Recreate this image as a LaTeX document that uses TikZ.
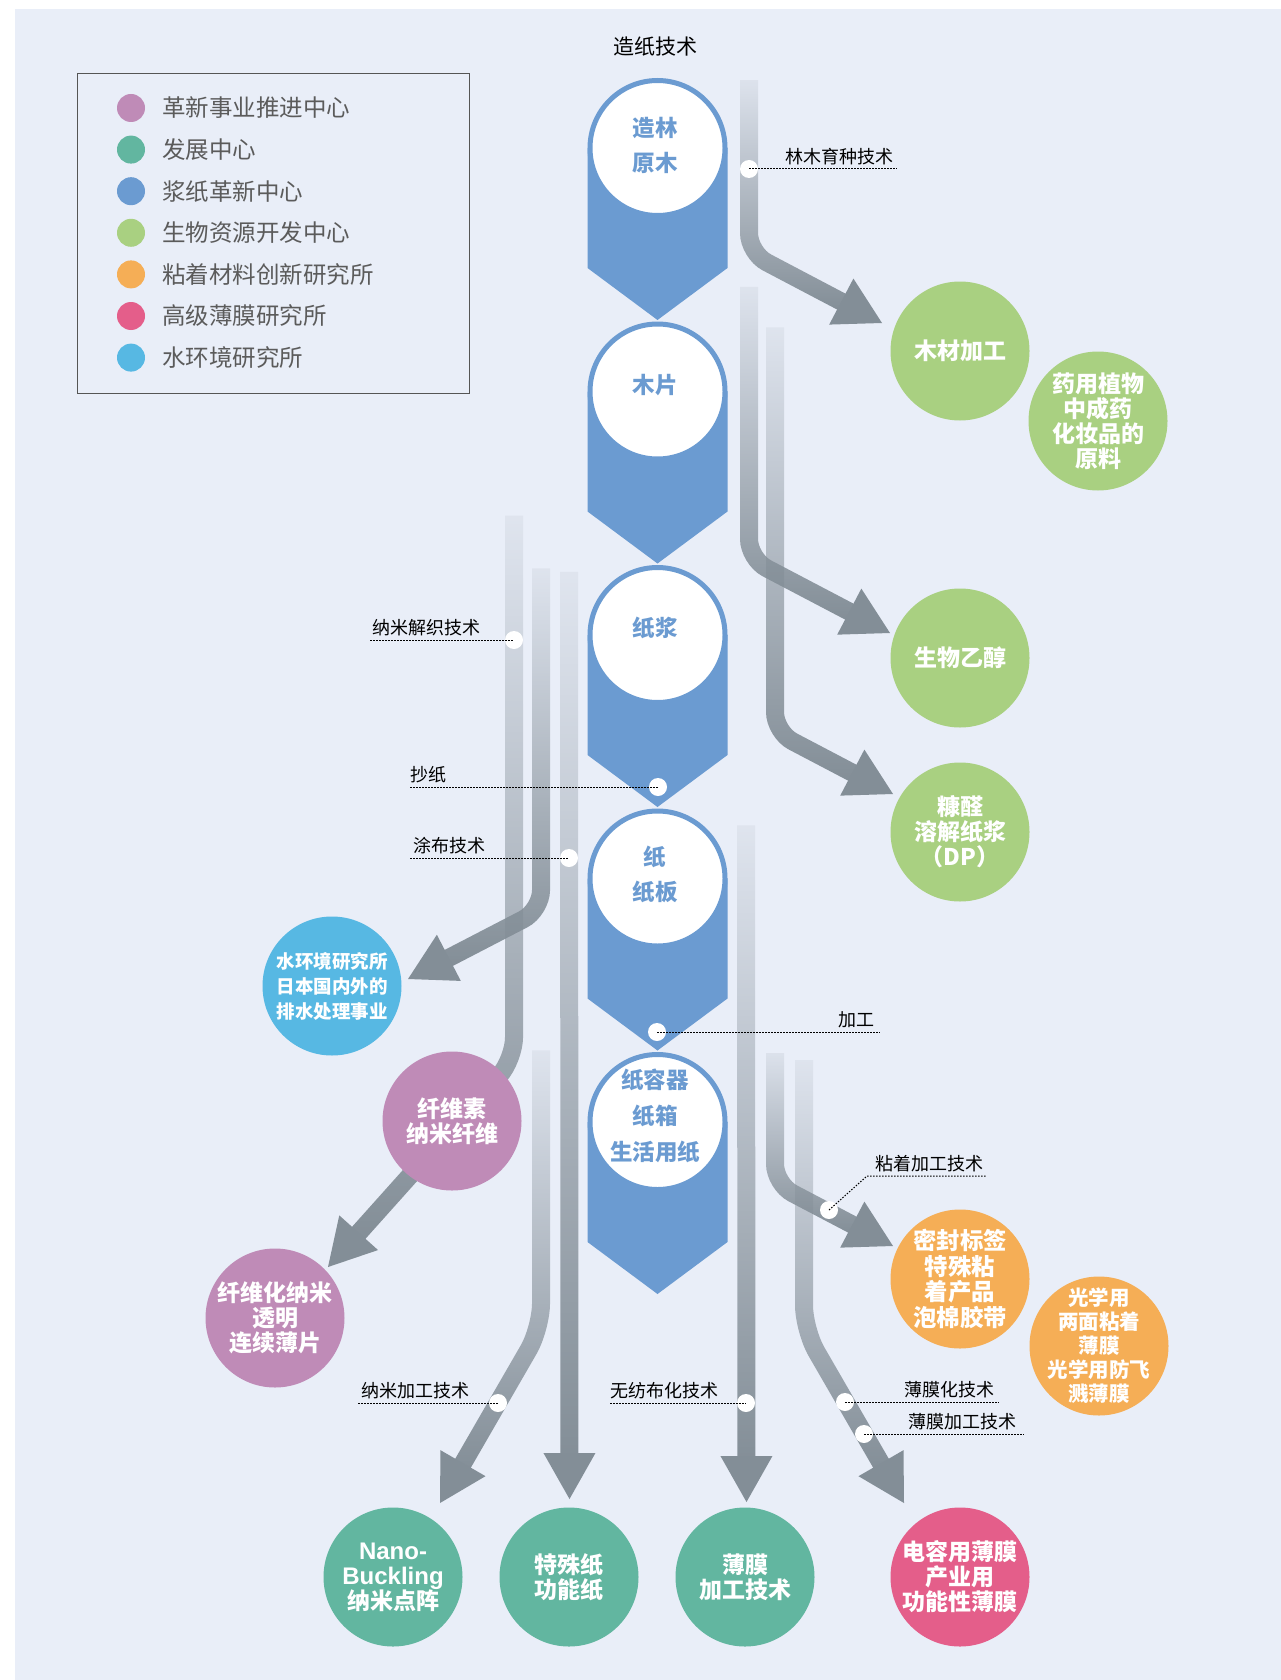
\documentclass[tikz,border=0pt]{standalone}
\usepackage{fontspec}
\setmainfont{Noto Sans CJK SC}
\newfontfamily\latinfont{Liberation Sans}
\usetikzlibrary{arrows.meta,fadings,calc}
\definecolor{bgc}{HTML}{E9EEF8}
\definecolor{colblue}{HTML}{6B9BD1}
\definecolor{cpurple}{HTML}{BF8BB7}
\definecolor{cteal}{HTML}{62B6A0}
\definecolor{cgreen}{HTML}{A9D081}
\definecolor{corange}{HTML}{F5AE56}
\definecolor{cpink}{HTML}{E45E8A}
\definecolor{ccyan}{HTML}{57B8E3}
\definecolor{arrowgray}{HTML}{838E97}
\definecolor{leggray}{HTML}{5B5B5B}
\definecolor{legframe}{HTML}{555555}
\tikzfading[name=arrowfade, top color=transparent!92, bottom color=transparent!0]
\tikzset{
  bub/.style={circle, inner sep=-20pt, minimum size=139pt, text=white, align=center,
    font=\fontsize{23}{25}\selectfont\bfseries},
  lbl/.style={font=\fontsize{18}{20}\selectfont, text=black, inner sep=0pt},
  dotline/.style={line width=1pt, dash pattern=on 1.5pt off 1.5pt, black},
  tdot/.style={circle, fill=white, inner sep=0pt, minimum size=18pt},
  flow/.style={line width=18pt, draw=arrowgray, rounded corners=20pt, path fading=arrowfade},
  flowtip/.style={fill=arrowgray},
  stage/.style={circle, fill=white, draw=colblue, line width=5pt, minimum size=135pt, inner sep=0pt},
  stagetext/.style={text=colblue, font=\fontsize{22.5}{35}\selectfont\bfseries, align=center, inner sep=0pt},
  legdot/.style={circle, inner sep=0pt, minimum size=28pt},
  legtext/.style={anchor=west, text=leggray, font=\fontsize{23.5}{28}\selectfont, inner sep=0pt},
}
\begin{document}
\begin{tikzpicture}[x=1pt,y=-1pt]
\useasboundingbox (0,0) rectangle (1281,1680);
\fill[bgc] (15,9) rectangle (1281,1680);

% title
\node[font=\fontsize{21}{24}\selectfont, inner sep=0pt] (title) at (655,47) {造纸技术};

% legend
\node[draw=legframe, line width=1.3pt, minimum width=392pt, minimum height=320pt, inner sep=0pt, anchor=north west] (legend) at (77,73) {};
\foreach \c/\t [count=\i] in {cpurple/革新事业推进中心, cteal/发展中心, colblue/浆纸革新中心, cgreen/生物资源开发中心, corange/粘着材料创新研究所, cpink/高级薄膜研究所, ccyan/水环境研究所}{
  \node[legdot, fill=\c] (ld\i) at (131,{108+41.6*(\i-1)}) {};
  \node[legtext] (lt\i) at (162,{108+41.6*(\i-1)}) {\t};
}

% flow arrows: start, corner, tip
\coordinate (a1s) at (749,80);   \coordinate (a1c) at (749,253);  \coordinate (a1t) at (882,323);
\coordinate (a2s) at (749,287);  \coordinate (a2c) at (749,559);  \coordinate (a2t) at (890,633);
\coordinate (a3s) at (775,327);  \coordinate (a3c) at (775,732);  \coordinate (a3t) at (893,794);
\coordinate (a4s) at (541,568);  \coordinate (a4c) at (541,910);  \coordinate (a4t) at (408,979);
\coordinate (a5s) at (514,515);  \coordinate (a5c) at (514,1059); \coordinate (a5t) at (328,1267);
\coordinate (a6s) at (569,570);  \coordinate (a6c) at (569,571);  \coordinate (a6t) at (569.5,1499);
\coordinate (a7s) at (541,1050); \coordinate (a7c) at (541,1328); \coordinate (a7t) at (440,1503);
\coordinate (a8s) at (746,825);  \coordinate (a8c) at (746,826);  \coordinate (a8t) at (746.5,1502);
\coordinate (a9s) at (775,1053); \coordinate (a9c) at (775,1184); \coordinate (a9t) at (893,1246);
\coordinate (a10s) at (804,1060); \coordinate (a10c) at (804,1330); \coordinate (a10t) at (904,1503);

\foreach \a in {a1,a2,a3,a4,a5,a6,a7,a8,a9,a10}{
  \coordinate (\a b) at ($(\a t)!46pt!(\a c)$);
  \coordinate (\a e) at ($(\a b)!-1.5pt!(\a c)$);
}

\draw[flow] (a1s) -- (a1c) -- (a1e);
\draw[flow] (a2s) -- (a2c) -- (a2e);
\draw[flow] (a3s) -- (a3c) -- (a3e);
\draw[flow] (a4s) -- (a4c) -- (a4e);
\draw[flow, rounded corners=22pt] (a5s) -- (a5c) -- (a5e);
\draw[flow] (a6s) -- (a6e);
\draw[flow, rounded corners=25pt] (a7s) -- (a7c) -- (a7e);
\draw[flow] (a8s) -- (a8e);
\draw[flow] (a9s) -- (a9c) -- (a9e);
\draw[flow, rounded corners=25pt] (a10s) -- (a10c) -- (a10e);

\foreach \a in {a1,a2,a3,a4,a5,a6,a7,a8,a9,a10}{
  \fill[flowtip] (\a t) -- ($(\a b)!26pt!90:(\a t)$) -- ($(\a b)!26pt!-90:(\a t)$) -- cycle;
}

% main column
\foreach \cy/\n in {148/1,391.5/2,635/3,878.5/4,1122/5}{
  \fill[colblue] (587.5,\cy) -- (727.5,\cy) -- (727.5,\cy+120) -- (657.5,\cy+172) -- (587.5,\cy+120) -- cycle;
  \node[stage] (s\n) at (657.5,\cy) {};
}
\node[stagetext] (st1) at (655,145.5) {造林\\原木};
\node[stagetext] (st2) at (655,385) {木片};
\node[stagetext] (st3) at (655,628) {纸浆};
\node[stagetext] (st4) at (655,874) {纸\\纸板};
\node[stagetext, font=\fontsize{22.5}{36}\selectfont\bfseries] (st5) at (655,1116) {纸容器\\纸箱\\生活用纸};

% outcome circles
\node[bub, fill=cgreen] (wood) at (960,351) {木材加工};
\node[bub, fill=cgreen] (herb) at (1098,421) {药用植物\\中成药\\化妆品的\\原料};
\node[bub, fill=cgreen] (ethanol) at (960,658) {生物乙醇};
\node[bub, fill=cgreen] (furfural) at (960,832) {糠醛\\溶解纸浆\\（DP）};
\node[bub, fill=ccyan, font=\fontsize{18.5}{25}\selectfont\bfseries] (water) at (332,986) {水环境研究所\\日本国内外的\\排水处理事业};
\node[bub, fill=cpurple] (cnf) at (452,1121) {纤维素\\纳米纤维};
\node[bub, fill=cpurple] (sheet) at (275,1318) {纤维化纳米\\透明\\连续薄片};
\node[bub, fill=corange, font=\fontsize{23.4}{25.7}\selectfont\bfseries] (seal) at (960,1279) {密封标签\\特殊粘\\着产品\\泡棉胶带};
\node[bub, fill=corange, font=\fontsize{20.5}{24}\selectfont\bfseries] (optic) at (1099,1346) {光学用\\两面粘着\\薄膜\\光学用防飞\\溅薄膜};
\node[bub, fill=cteal] (nano) at (393,1577) {{\latinfont\fontsize{24}{25}\selectfont Nano-}\\{\latinfont\fontsize{24}{25}\selectfont Buckling}\\纳米点阵};
\node[bub, fill=cteal] (special) at (569,1577) {特殊纸\\功能纸};
\node[bub, fill=cteal] (film) at (745,1577) {薄膜\\加工技术};
\node[bub, fill=cpink] (cap) at (960,1577) {电容用薄膜\\产业用\\功能性薄膜};

% technique markers
\node[tdot] (d1) at (749,169) {};
\node[tdot] (d2) at (514,640) {};
\node[tdot] (d3) at (658,787) {};
\node[tdot] (d4) at (569,858) {};
\node[tdot] (d5) at (657,1032) {};
\node[tdot] (d6) at (829,1210) {};
\node[tdot] (d7) at (498,1403) {};
\node[tdot] (d8) at (746,1403) {};
\node[tdot] (d9) at (845,1402) {};
\node[tdot] (d10) at (864,1434) {};

\coordinate (e1) at (897,169);
\coordinate (e2) at (370,640);
\coordinate (e3) at (410,787);
\coordinate (e4) at (410,858);
\coordinate (e5) at (880,1032);
\coordinate (e6a) at (867,1176); \coordinate (e6) at (987,1176);
\coordinate (e7) at (358,1403);
\coordinate (e8) at (610,1403);
\coordinate (e9) at (999,1402);
\coordinate (e10) at (1024,1434);

\draw[dotline] (d1.center) -- (e1);
\draw[dotline] (e2) -- (d2.center);
\draw[dotline] (e3) -- (d3.center);
\draw[dotline] (e4) -- (d4.center);
\draw[dotline] (d5.center) -- (e5);
\draw[dotline] (d6.center) -- (e6a) -- (e6);
\draw[dotline] (e7) -- (d7.center);
\draw[dotline] (e8) -- (d8.center);
\draw[dotline] (d9.center) -- (e9);
\draw[dotline] (d10.center) -- (e10);

\node[lbl, anchor=base east] (l1) at (894,163.5) {林木育种技术};
\node[lbl, anchor=base west] (l2) at (372,634.5) {纳米解织技术};
\node[lbl, anchor=base west] (l3) at (410,781.5) {抄纸};
\node[lbl, anchor=base west] (l4) at (413,852.5) {涂布技术};
\node[lbl, anchor=base east] (l5) at (875,1026.5) {加工};
\node[lbl, anchor=base west] (l6) at (875,1170.5) {粘着加工技术};
\node[lbl, anchor=base west] (l7) at (361,1397.5) {纳米加工技术};
\node[lbl, anchor=base west] (l8) at (610,1397.5) {无纺布化技术};
\node[lbl, anchor=base east] (l9) at (995,1396.5) {薄膜化技术};
\node[lbl, anchor=base east] (l10) at (1017,1428.5) {薄膜加工技术};
\end{tikzpicture}
\end{document}
